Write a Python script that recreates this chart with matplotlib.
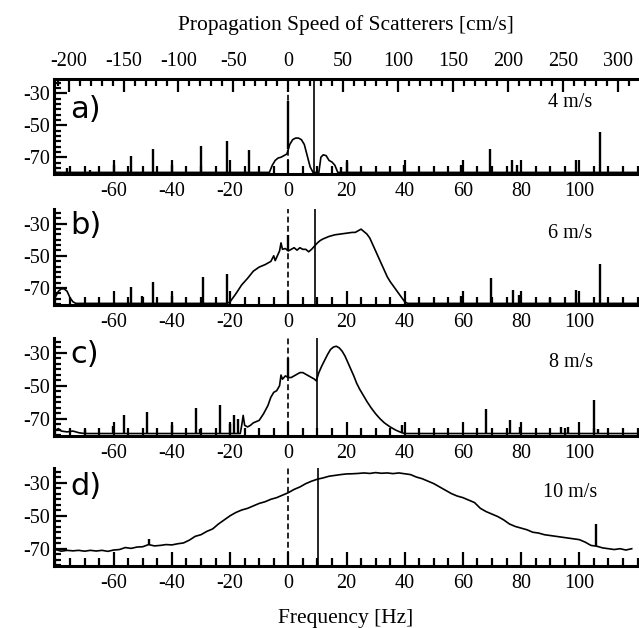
import numpy as np
import matplotlib
matplotlib.use("Agg")
import matplotlib.pyplot as plt
from matplotlib.ticker import FixedLocator, MultipleLocator, AutoMinorLocator

plt.rcParams['font.family'] = ['Liberation Serif', 'DejaVu Serif']
plt.rcParams['axes.unicode_minus'] = False

# --- data (Hz, dB) ---
speeds = ['4 m/s', '6 m/s', '8 m/s', '10 m/s']
panel_tags = ['a)', 'b)', 'c)', 'd)']
tag_db = [-40, -31, -31, -32]
bragg_line = [8.8, 9.3, 9.7, 10.2]

a_freq = [-81, -6.5, -5.5, -4.5, -3.5, -2.5, -1.5, -0.5, 0.5, 1.5, 2.5, 3.5, 4.5,
          5.5, 6.5, 7.5, 8.5, 10.5, 11.2, 12, 13, 14, 15, 16, 17, 121]
a_db = [-79.5, -79.5, -75, -72, -70.5, -70, -69, -68, -62, -59, -58, -58, -59,
        -62, -69, -76, -79.5, -79.5, -70, -68.5, -69, -72, -73, -75, -79.5, -79.5]
a_spike_f = [-76, -68, -60, -54, -46.6, -40, -30, -21, -13.5, 0, 18, 20.2,
             39.6, 59.3, 69.2, 76.8, 78.6, 99, 107]
a_spike_db = [-77, -78, -75, -69, -65, -75, -63, -60, -65.5, -35, -76, -73,
              -75, -75, -65, -71.5, -75, -71.5, -54]

b_freq = [-81, -79, -78, -77, -76, -75, -74, -73, -21, -20, -19, -18, -16, -14,
          -12, -10, -8, -7, -6, -5, -4.5, -4, -3, -2.5, -2, -1, 0, 1, 2, 3, 4,
          5, 6, 7, 8, 9, 10, 11, 12, 14, 16, 18, 20, 22, 23, 24, 25, 26, 27,
          28, 29, 30, 31, 32, 33, 34, 35, 36, 37, 38, 39, 40, 41, 121]
b_db = [-79, -72, -70.5, -70.5, -72, -76, -78.5, -79.5, -79.5, -78.5, -76,
        -73.5, -68, -64, -59.5, -57, -55.5, -54.5, -53.5, -50, -53, -51, -47,
        -42, -46, -45.5, -47, -46, -45, -46.5, -45, -46, -46, -47.5, -46, -44,
        -42, -40.5, -39.5, -38, -37, -36.5, -36, -35.5, -35.5, -34.5, -33.5,
        -35, -36.5, -39, -43, -47, -51, -55, -59, -63, -66, -68.5, -71, -73.5,
        -76, -78.5, -79.5, -79.5]
b_spike_f = [-54.2, -50.4, -46.6, -40, -29.3, -21, 0, 59.3, 69.5, 77.2,
             79.3, 90, 98.9, 107]
b_spike_db = [-69.5, -75, -66, -75, -63, -61, -37, -75, -64, -71, -74,
              -76, -71.5, -55]

c_freq = [-81, -79, -78, -76, -74, -72, -70, -16.5, -16, -15.5, -15, -14, -13,
          -12, -10, -8.5, -7, -6, -5, -4, -3, -2.5, -2, -1, 0, 1, 2, 3, 4, 5,
          6, 7, 8, 9, 9.6, 10.5, 11.5, 12.5, 13.5, 14.5, 15.5, 16.5, 17.5,
          18.5, 19.5, 20.5, 21.5, 22.5, 23.5, 24.5, 25.5, 27, 28.5, 30, 31.5,
          33, 35, 37, 39, 40, 121]
c_db = [-78, -76, -77.5, -78, -77.5, -78.5, -79, -79, -74, -68, -74, -75, -74,
        -72.5, -71, -67, -62, -57, -54, -53, -50, -43.5, -46, -44, -45, -45,
        -44, -43, -42, -42, -43, -44, -45, -46, -47, -42, -38, -34.5, -31,
        -28, -26.5, -26, -27, -29, -32, -36, -40, -44, -48.5, -52, -55, -59.5,
        -63.5, -67, -70, -72.5, -75, -77, -78.5, -79, -79]
c_spike_f = [-78.3, -70, -60.2, -56.3, -48.7, -39.8, -31.7, -30.5, -23.3,
             -19.9, -18.6, -17.3, 0, 39, 67.9, 76.3, 79.5, 93.6, 96.2, 105.1,
             106.5]
c_spike_db = [-76, -77, -74.5, -68, -66, -74, -63.5, -76, -61.5, -73.5, -68,
              -70, -33, -74, -64, -70.5, -75, -75, -75, -58.5, -76]

d_freq = list(range(-80, 120, 2))
d_db = [-70.5, -71.5, -71, -71.3, -71, -71.5, -71, -71.4, -71, -71.6, -70.8,
        -70.5, -69.3, -69.8, -69, -68.8, -67.5, -68.3, -68, -67.5, -67.7, -67,
        -66.5, -64.8, -62.5, -61.5, -59.5, -58, -55, -52.5, -50, -48, -46.5,
        -45.5, -44, -42.5, -41.5, -40, -39, -37.5, -36, -34, -32.5, -30.5, -29,
        -27.8, -27, -26, -25.5, -25, -24.6, -24.5, -24.3, -24, -24.3, -23.8,
        -24.2, -24, -24.4, -24, -24.5, -25, -26.5, -27.5, -29, -30.5, -32.5,
        -34.5, -36.5, -38, -39, -40.5, -42, -45.5, -47.5, -49, -50.5, -52.5,
        -55, -56.5, -57.5, -58.5, -60, -60.5, -61.5, -62, -62.5, -63, -63.5,
        -64, -64.5, -66, -68, -68.5, -69.5, -70, -70.5, -70, -70.8, -70]
d_spike_f = [-48, 105.8]
d_spike_db = [-64, -55]

curves = [(a_freq, a_db, a_spike_f, a_spike_db),
          (b_freq, b_db, b_spike_f, b_spike_db),
          (c_freq, c_db, c_spike_f, c_spike_db),
          (d_freq, d_db, d_spike_f, d_spike_db)]

hz_to_cms = 2.65
x_ticks = [-60, -40, -20, 0, 20, 40, 60, 80, 100]
y_ticks = [-70, -50, -30]
top_ticks = list(range(-200, 301, 50))

fig = plt.figure(figsize=(6.39, 6.28), dpi=100)
tops = [79, 209, 338, 468]
bots = [174, 305, 436, 566]
left = 54 / 639

for i, (fr, db, sf, sdb) in enumerate(curves):
    y0 = 1 - bots[i] / 628
    h = (bots[i] - tops[i]) / 628
    ax = fig.add_axes([left, y0, 1.0 - left, h])
    ax.plot(fr, db, color='black', lw=1.2)
    base = np.interp(sf, fr, db)
    ax.vlines(sf, base, sdb, color='black', lw=1.7)
    ax.axvline(0, color='black', lw=1.2, ls=(0, (3.5, 2)))
    ax.axvline(bragg_line[i], color='black', lw=1.2)

    ax.set_xlim(-80.5, 120.5)
    ax.set_ylim(-80.5, -21)
    ax.xaxis.set_major_locator(FixedLocator(x_ticks))
    ax.xaxis.set_minor_locator(MultipleLocator(5))
    ax.yaxis.set_major_locator(FixedLocator(y_ticks))
    ax.yaxis.set_minor_locator(AutoMinorLocator(6))
    ax.tick_params(axis='both', which='both', direction='in', width=1.6,
                   color='black', labelsize=14.5, top=False, right=False)
    ax.tick_params(axis='x', which='major', length=10, pad=6)
    ax.tick_params(axis='x', which='minor', length=6)
    ax.tick_params(axis='y', which='major', length=9, pad=3)
    ax.tick_params(axis='y', which='minor', length=5)
    ax.spines['right'].set_visible(False)
    ax.spines['top'].set_visible(False)
    for s in ['left', 'bottom']:
        ax.spines[s].set_linewidth(2.2)

    ax.text(-75, tag_db[i], panel_tags[i], family='DejaVu Sans', fontsize=22,
            va='center', ha='left')
    ax.text(97, -36, speeds[i], fontsize=14.5, va='center', ha='center')

    if i == 0:
        sec = ax.secondary_xaxis('top', functions=(lambda f: f * hz_to_cms,
                                                   lambda v: v / hz_to_cms))
        sec.xaxis.set_major_locator(FixedLocator(top_ticks))
        sec.xaxis.set_minor_locator(MultipleLocator(10))
        sec.tick_params(which='both', direction='in', width=1.6,
                        labelsize=14.5)
        sec.tick_params(which='major', length=9, pad=6)
        sec.tick_params(which='minor', length=5)
        sec.spines['top'].set_linewidth(2.2)

fig.text(346 / 639, 1 - 25 / 628, 'Propagation Speed of Scatterers [cm/s]',
         ha='center', va='center', fontsize=15.5)
fig.text(346 / 639, 1 - 618 / 628, 'Frequency [Hz]', ha='center',
         va='center', fontsize=15.5)

fig.savefig('out.png', dpi=100)
